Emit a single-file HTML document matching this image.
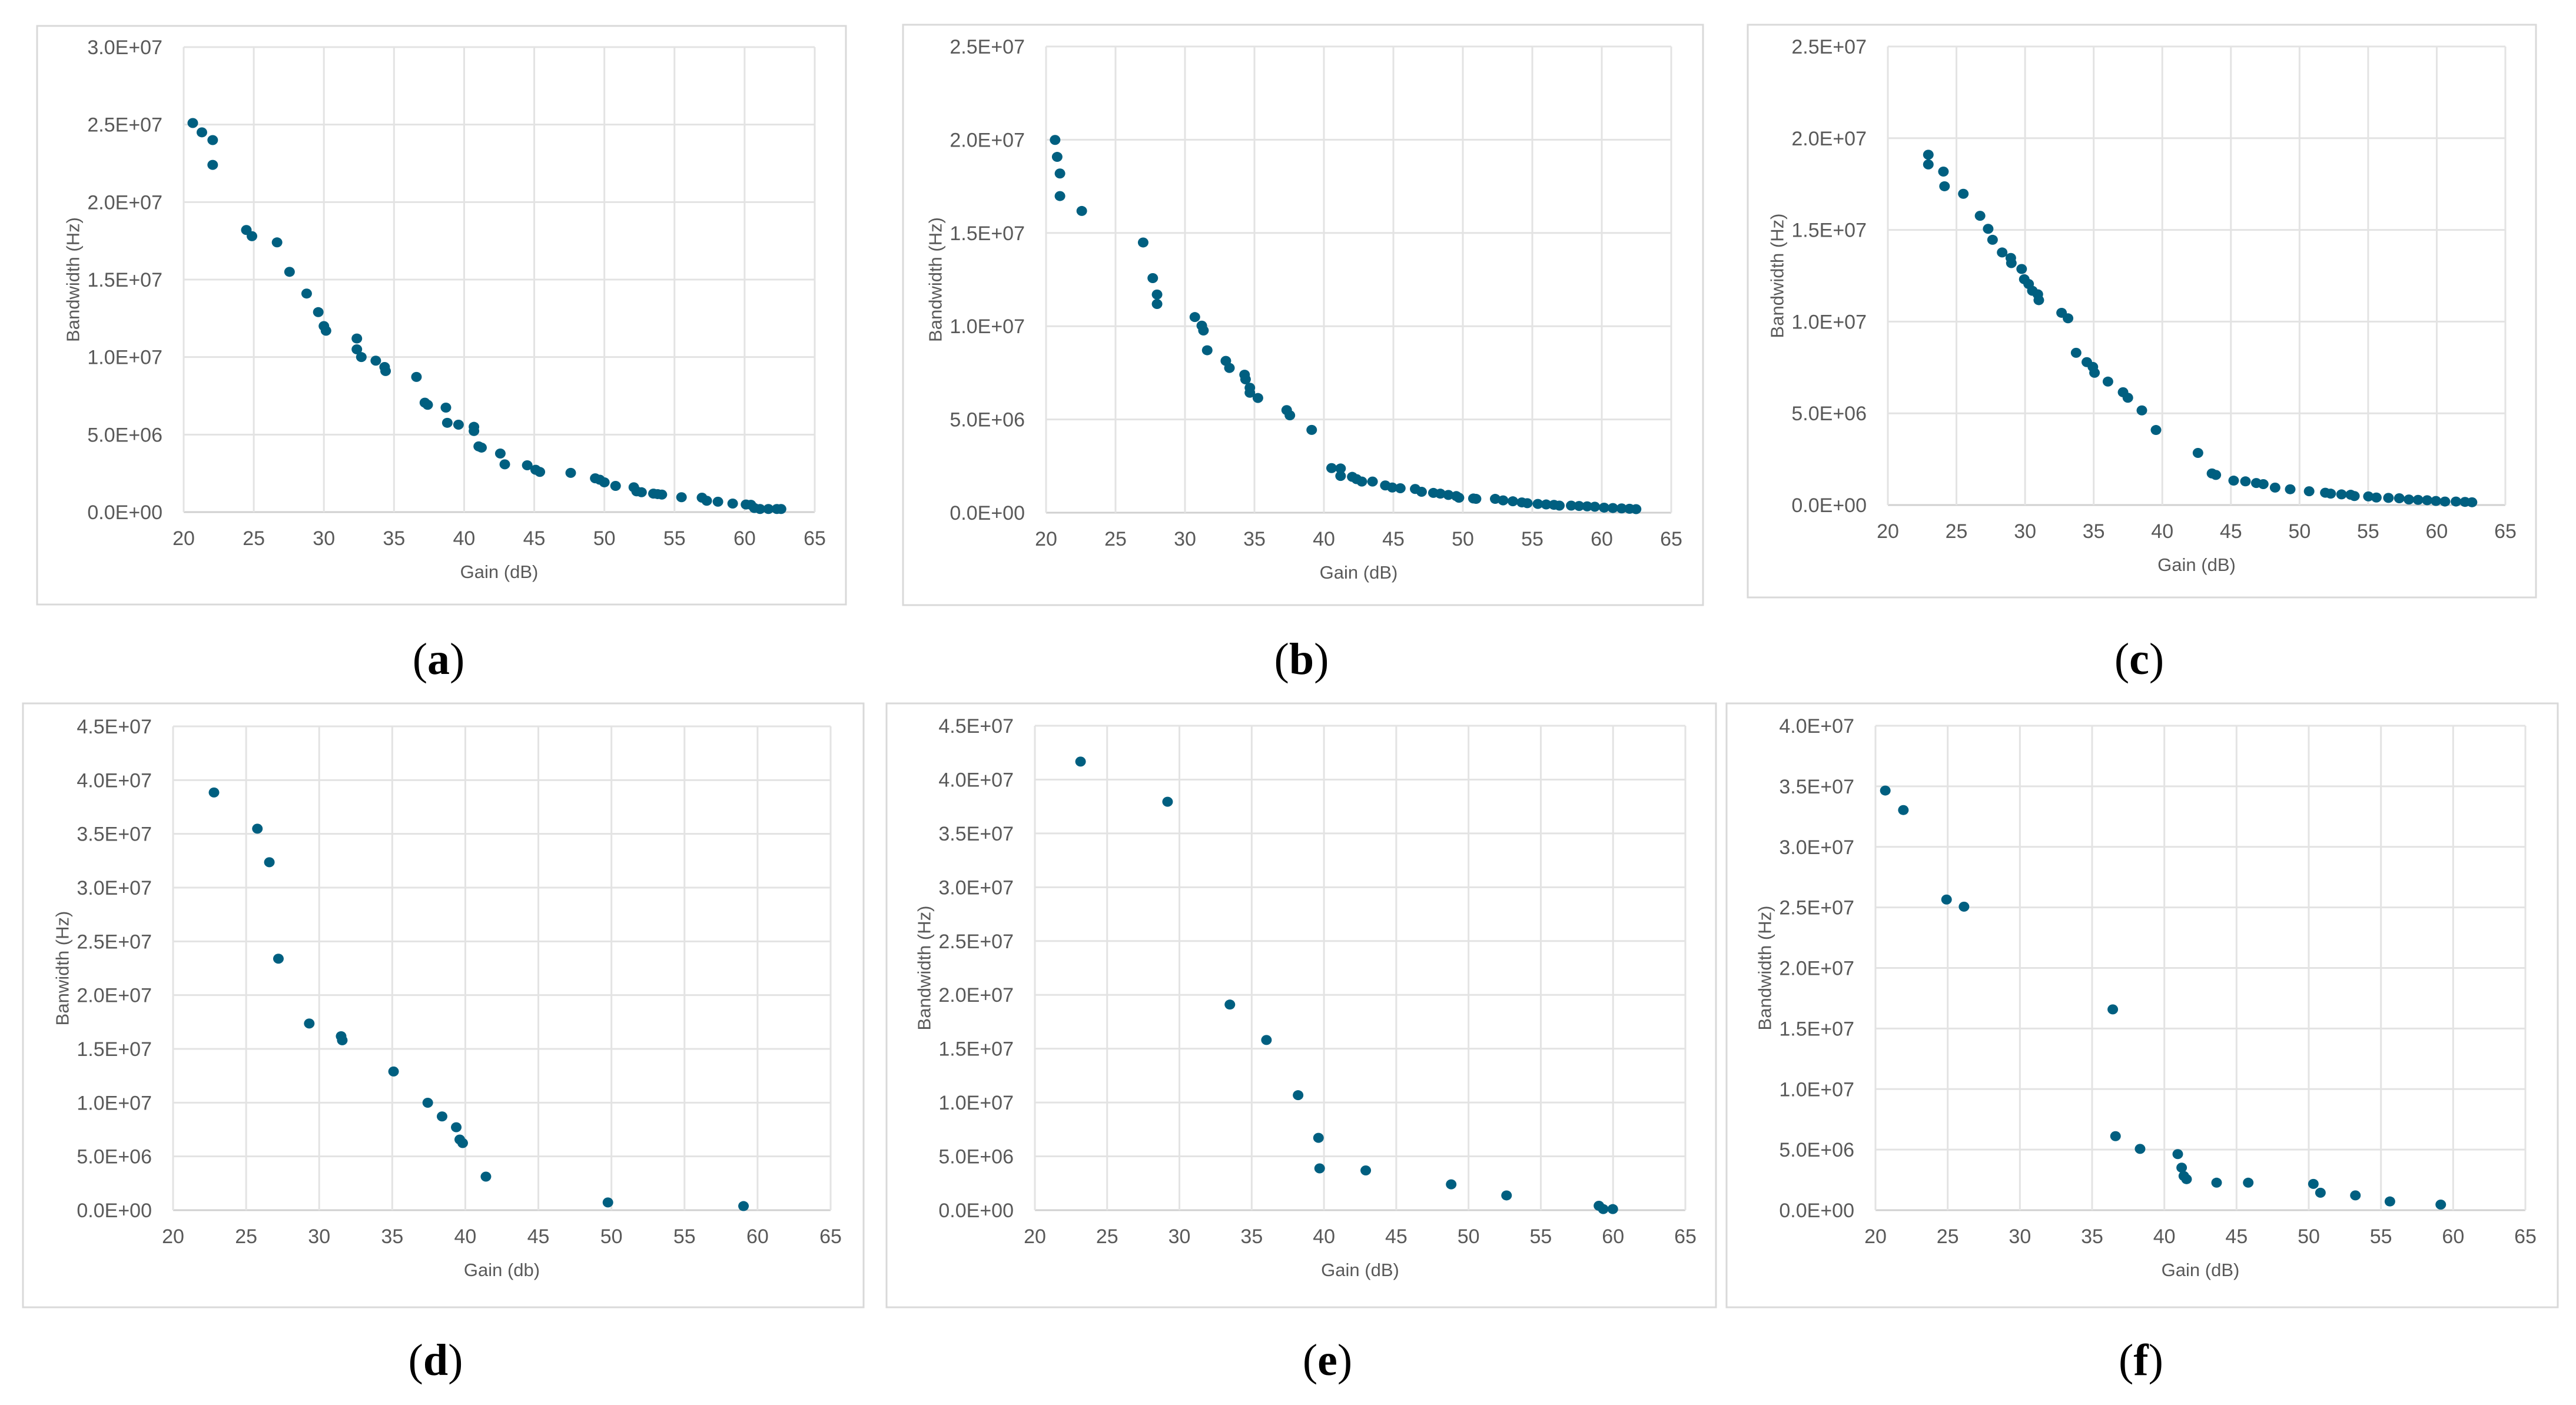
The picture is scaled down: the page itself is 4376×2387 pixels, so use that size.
<!DOCTYPE html>
<html><head><meta charset="utf-8"><title>Gain vs Bandwidth scatter panels</title>
<style>
html,body{margin:0;padding:0;background:#fff;}
svg{display:block;}
</style></head>
<body>
<svg id="fig" width="4376" height="2387" viewBox="0 0 4376 2387" xmlns="http://www.w3.org/2000/svg"></svg>
<script>
// ---- data (y in units of 1e6 Hz) ----
const xTicks = [20,25,30,35,40,45,50,55,60,65];
const aGain = [20.65,21.3,22.07,22.07,24.47,24.87,26.66,27.55,28.77,29.6,30.0,30.15,32.35,32.35,32.67,33.7,34.33,34.4,36.6,37.2,37.4,38.7,38.8,39.6,40.7,40.7,41.04,41.24,42.58,42.9,44.5,45.1,45.4,47.6,49.35,49.67,50.0,50.8,52.1,52.3,52.65,53.5,53.8,54.1,55.5,56.96,57.3,58.1,59.15,60.1,60.45,60.7,61.1,61.7,62.3,62.6];
const aBw = [25.1,24.5,24.0,22.4,18.2,17.8,17.4,15.5,14.1,12.9,12.0,11.7,11.2,10.5,10.0,9.77,9.36,9.1,8.72,7.06,6.92,6.74,5.76,5.64,5.5,5.23,4.24,4.16,3.78,3.08,3.02,2.73,2.59,2.53,2.18,2.09,1.92,1.69,1.6,1.34,1.28,1.19,1.16,1.13,0.96,0.93,0.73,0.67,0.55,0.49,0.47,0.26,0.2,0.2,0.2,0.2];
const bGain = [20.65,20.8,21.0,21.0,22.57,26.99,27.68,27.99,27.99,30.71,31.21,31.33,31.6,32.94,33.2,34.29,34.36,34.67,34.67,35.25,37.32,37.55,39.12,40.55,41.2,41.2,42.04,42.35,42.73,43.5,44.42,44.92,45.5,46.57,47.03,47.88,48.38,48.96,49.53,49.72,50.76,50.95,52.33,52.9,53.6,54.25,54.64,55.4,56.0,56.56,56.95,57.8,58.37,58.95,59.5,60.17,60.8,61.43,62.0,62.47];
const bBw = [19.99,19.08,18.19,16.98,16.18,14.49,12.58,11.7,11.19,10.49,10.03,9.77,8.71,8.14,7.76,7.4,7.15,6.7,6.43,6.15,5.5,5.22,4.44,2.39,2.37,1.97,1.92,1.8,1.67,1.67,1.46,1.35,1.31,1.27,1.12,1.06,1.02,0.95,0.89,0.8,0.76,0.74,0.74,0.66,0.61,0.55,0.51,0.47,0.44,0.42,0.38,0.38,0.36,0.34,0.32,0.27,0.25,0.23,0.21,0.19];
const cGain = [22.95,22.95,24.05,24.13,25.5,26.72,27.31,27.63,28.33,28.96,29.0,29.75,29.94,30.26,30.53,30.93,31.0,32.66,33.13,33.72,34.5,34.94,35.06,36.04,37.14,37.49,38.51,39.54,42.6,43.62,43.9,45.2,46.06,46.85,47.36,48.22,49.32,50.7,51.88,52.27,53.06,53.73,54.0,55.02,55.6,56.48,57.27,57.97,58.64,59.3,59.94,60.6,61.4,62.06,62.57];
const cBw = [19.1,18.57,18.18,17.38,16.97,15.77,15.06,14.46,13.77,13.47,13.19,12.87,12.31,12.05,11.68,11.49,11.17,10.48,10.18,8.3,7.79,7.53,7.21,6.73,6.15,5.85,5.16,4.09,2.84,1.72,1.64,1.33,1.29,1.2,1.14,0.95,0.86,0.75,0.67,0.62,0.58,0.56,0.49,0.47,0.41,0.39,0.37,0.3,0.28,0.26,0.22,0.19,0.19,0.17,0.15];
const dGain = [22.8,25.77,26.59,27.21,29.32,31.5,31.58,35.09,37.43,38.41,39.38,39.62,39.82,41.41,49.76,59.04];
const dBw = [38.85,35.48,32.36,23.39,17.36,16.18,15.8,12.9,9.99,8.72,7.71,6.57,6.24,3.12,0.72,0.38];
const eGain = [23.16,29.18,33.49,36.02,38.21,39.62,39.7,42.89,48.8,52.63,59.02,59.32,59.98];
const eBw = [41.67,37.94,19.1,15.81,10.68,6.72,3.88,3.69,2.4,1.37,0.41,0.1,0.1];
const fGain = [20.68,21.93,24.92,26.13,36.43,36.62,38.32,40.93,41.2,41.35,41.54,43.62,45.81,50.32,50.81,53.23,55.62,59.14];
const fBw = [34.65,33.04,25.65,25.06,16.58,6.11,5.06,4.63,3.51,2.82,2.56,2.27,2.27,2.17,1.44,1.22,0.72,0.46];
const yTicks30 = [0,5,10,15,20,25,30];
const yTicks25 = [0,5,10,15,20,25];
const yTicks45 = [0,5,10,15,20,25,30,35,40,45];
const yTicks40 = [0,5,10,15,20,25,30,35,40];
const yLabels30 = ["0.0E+00","5.0E+06","1.0E+07","1.5E+07","2.0E+07","2.5E+07","3.0E+07"];
const yLabels25 = ["0.0E+00","5.0E+06","1.0E+07","1.5E+07","2.0E+07","2.5E+07"];
const yLabels45 = ["0.0E+00","5.0E+06","1.0E+07","1.5E+07","2.0E+07","2.5E+07","3.0E+07","3.5E+07","4.0E+07","4.5E+07"];
const yLabels40 = ["0.0E+00","5.0E+06","1.0E+07","1.5E+07","2.0E+07","2.5E+07","3.0E+07","3.5E+07","4.0E+07"];

const NS = "http://www.w3.org/2000/svg";
const svg = document.getElementById('fig');
function mk(tag, attrs, parent){
  const e = document.createElementNS(NS, tag);
  for (const k in attrs) e.setAttribute(k, attrs[k]);
  (parent||svg).appendChild(e);
  return e;
}
const panels = [
  {id:'a', box:[63,44,1437,1027], plot:[312,80,1384,870], yT:yTicks30, yL:yLabels30, gx:aGain, gy:aBw, cap:[745,1120], yt:'Bandwidth (Hz)', xt:'Gain (dB)'},
  {id:'b', box:[1534,42,2893,1028], plot:[1777,79,2839,871], yT:yTicks25, yL:yLabels25, gx:bGain, gy:bBw, cap:[2211,1120], yt:'Bandwidth (Hz)', xt:'Gain (dB)'},
  {id:'c', box:[2969,42,4308,1015], plot:[3207,79,4256,858], yT:yTicks25, yL:yLabels25, gx:cGain, gy:cBw, cap:[3634,1120], yt:'Bandwidth (Hz)', xt:'Gain (dB)'},
  {id:'d', box:[39,1195,1467,2221], plot:[294,1234,1411,2056], yT:yTicks45, yL:yLabels45, gx:dGain, gy:dBw, cap:[740,2311], yt:'Banwidth (Hz)', xt:'Gain (db)'},
  {id:'e', box:[1506,1195,2915,2221], plot:[1758,1233,2863,2056], yT:yTicks45, yL:yLabels45, gx:eGain, gy:eBw, cap:[2255,2311], yt:'Bandwidth (Hz)', xt:'Gain (dB)'},
  {id:'f', box:[2933,1195,4345,2221], plot:[3186,1233,4290,2056], yT:yTicks40, yL:yLabels40, gx:fGain, gy:fBw, cap:[3637,2311], yt:'Bandwidth (Hz)', xt:'Gain (dB)'}
];
const FONT = '"Liberation Sans", sans-serif';
panels.forEach(p => {
  const g = mk('g', {});
  
  
  const [L,T,R,B] = p.plot;
  const xMin = xTicks[0], xMax = xTicks[xTicks.length-1];
  const yMax = p.yT[p.yT.length-1];
  const sx = v => L + (v - xMin) / (xMax - xMin) * (R - L);
  const sy = v => B - v / yMax * (B - T);
  const box = mk('rect', {x:p.box[0], y:p.box[1], width:p.box[2]-p.box[0], height:p.box[3]-p.box[1], fill:'#fff', stroke:'#d9d9d9', 'stroke-width':3}, g);
  
  
  p.yT.forEach((t,i) => {
    const ln = mk('line', {x1:L, x2:R, y1:sy(t), y2:sy(t), stroke: t===0 ? '#d0d0d0' : '#e3e3e3', 'stroke-width':3}, g);
    
    
    const tx = mk('text', {x:L-36, y:sy(t)+12, 'text-anchor':'end', 'font-size':34, fill:'#595959', 'font-family':FONT}, g);
    tx.textContent = p.yL[i];
    
    
  });
  xTicks.forEach(t => {
    const ln = mk('line', {x1:sx(t), x2:sx(t), y1:T, y2:B, stroke:'#e3e3e3', 'stroke-width':3}, g);
    
    
    const tx = mk('text', {x:sx(t), y:B+56, 'text-anchor':'middle', 'font-size':34, fill:'#595959', 'font-family':FONT}, g);
    tx.textContent = String(t);
    
    
  });
  const xt = mk('text', {x:(L+R)/2, y:B+112, 'text-anchor':'middle', 'font-size':31, fill:'#595959', 'font-family':FONT}, g);
  xt.textContent = p.xt;
  
  
  const yc = (T+B)/2, yx = L-188;
  const yt = mk('text', {x:yx, y:yc, 'text-anchor':'middle', 'dominant-baseline':'central', 'font-size':31, fill:'#595959', 'font-family':FONT, transform:`rotate(-90 ${yx} ${yc})`}, g);
  yt.textContent = p.yt;
  
  
  p.gx.forEach((gv,i) => {
    const c = mk('ellipse', {cx:sx(gv), cy:sy(p.gy[i]), rx:9, ry:8.5, fill:'#005f80'}, g);
    
    
  });
  const cap = mk('text', {x:p.cap[0], y:p.cap[1], 'text-anchor':'middle', 'dominant-baseline':'central', 'font-size':76, fill:'#000', 'font-family':'"Liberation Serif", serif'}, g);
  cap.innerHTML = '(<tspan font-weight="bold">' + p.id + '</tspan>)';
  
  
});
</script>
</body></html>
